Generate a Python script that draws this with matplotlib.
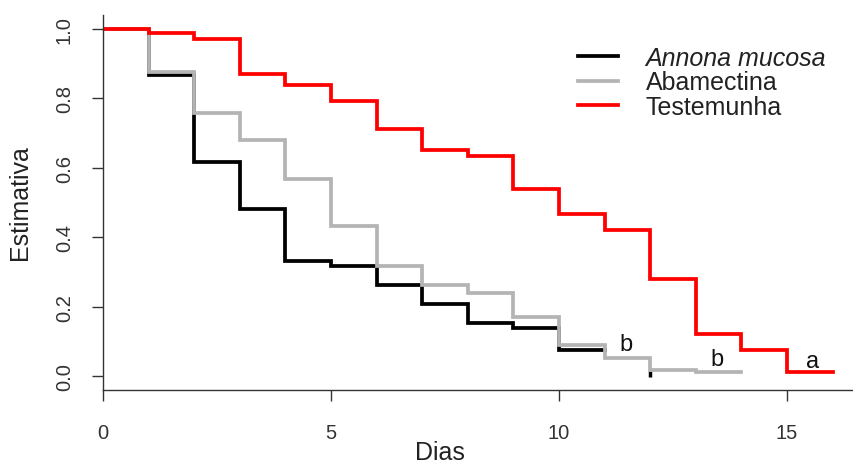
import matplotlib
matplotlib.use("Agg")
import matplotlib.pyplot as plt

plt.rcParams['font.family'] = ['Liberation Sans', 'DejaVu Sans']

# ---- data ----
dias_annona = [0, 1, 2, 3, 4, 5, 6, 7, 8, 9, 10, 11]
surv_annona = [1.0, 0.868, 0.617, 0.480, 0.332, 0.318, 0.262, 0.208, 0.152, 0.138, 0.074, 0.074]
annona_extra_x = [12]
annona_extra_y = [0.006]

dias_abamectina = [0, 1, 2, 3, 4, 5, 6, 7, 8, 9, 10, 11, 12, 13, 14]
surv_abamectina = [1.0, 0.875, 0.759, 0.679, 0.569, 0.431, 0.318, 0.261, 0.238, 0.169,
                   0.090, 0.051, 0.018, 0.011, 0.011]

dias_testemunha = [0, 1, 2, 3, 4, 5, 6, 7, 8, 9, 10, 11, 12, 13, 14, 15, 16]
surv_testemunha = [1.0, 0.988, 0.971, 0.871, 0.839, 0.792, 0.713, 0.650, 0.635, 0.540,
                   0.467, 0.420, 0.281, 0.121, 0.075, 0.012, 0.012]

series_labels = ["Annona mucosa", "Abamectina", "Testemunha"]
series_colors = ["#000000", "#b4b4b4", "#ff0000"]

letters = ["b", "b", "a"]
letters_x = [11.47, 13.46, 15.57]
letters_y = [0.092, 0.050, 0.043]

x_ticks = [0, 5, 10, 15]
y_ticks = [0.0, 0.2, 0.4, 0.6, 0.8, 1.0]
y_tick_labels = ["0.0", "0.2", "0.4", "0.6", "0.8", "1.0"]

# ---- figure ----
W, H = 854, 464
fig = plt.figure(figsize=(W / 100, H / 100), dpi=100)
left, right, top, bottom = 103, 854, 16, 391
ax = fig.add_axes([left / W, 1 - bottom / H, (right - left) / W, (bottom - top) / H])

lw = 2.7
ax.step(dias_annona, surv_annona, where='post', color=series_colors[0], lw=lw,
        label=series_labels[0], solid_joinstyle='miter')
ax.plot(annona_extra_x, annona_extra_y, ls='none', marker='|', ms=5, mew=2.5,
        color=series_colors[0])
ax.step(dias_abamectina, surv_abamectina, where='post', color=series_colors[1], lw=lw,
        label=series_labels[1], solid_joinstyle='miter')
ax.step(dias_testemunha, surv_testemunha, where='post', color=series_colors[2], lw=lw,
        label=series_labels[2], solid_joinstyle='miter')

for t, x, y in zip(letters, letters_x, letters_y):
    ax.text(x, y, t, fontsize=17, ha='center', va='center', color='#111111')

ax.set_xlim(0, (right - left) / 45.6)
ax.set_ylim(-0.04, 1.04)

for s in ['top', 'right']:
    ax.spines[s].set_visible(False)
for s in ['left', 'bottom']:
    ax.spines[s].set_color('#333333')
    ax.spines[s].set_linewidth(1.0)

ax.set_xticks(x_ticks)
ax.set_xticklabels([str(v) for v in x_ticks])
ax.set_yticks(y_ticks)
ax.set_yticklabels(y_tick_labels, rotation=90, va='center')
ax.tick_params(axis='both', direction='out', length=8, width=1.0, color='#333333',
               labelsize=14.5, labelcolor='#333333')
ax.tick_params(axis='x', pad=16)
ax.tick_params(axis='y', pad=13)

fig.text(20 / W, 1 - 203 / H, "Estimativa", rotation=90, ha='center', va='center',
         fontsize=18, color='#222222')
fig.text(440 / W, 1 - 453 / H, "Dias", ha='center', va='center',
         fontsize=18, color='#222222')

handles, labels = ax.get_legend_handles_labels()
leg = ax.legend(handles, labels, loc='upper left', bbox_to_anchor=(578 / W, 1 - 47 / H),
                bbox_transform=fig.transFigure, frameon=False, fontsize=18,
                handlelength=1.6, handletextpad=1.1, labelspacing=0.02,
                borderaxespad=0, borderpad=0)
for txt in leg.get_texts():
    txt.set_color('#222222')
leg.get_texts()[0].set_fontstyle('italic')

fig.savefig("out.png", dpi=100)
